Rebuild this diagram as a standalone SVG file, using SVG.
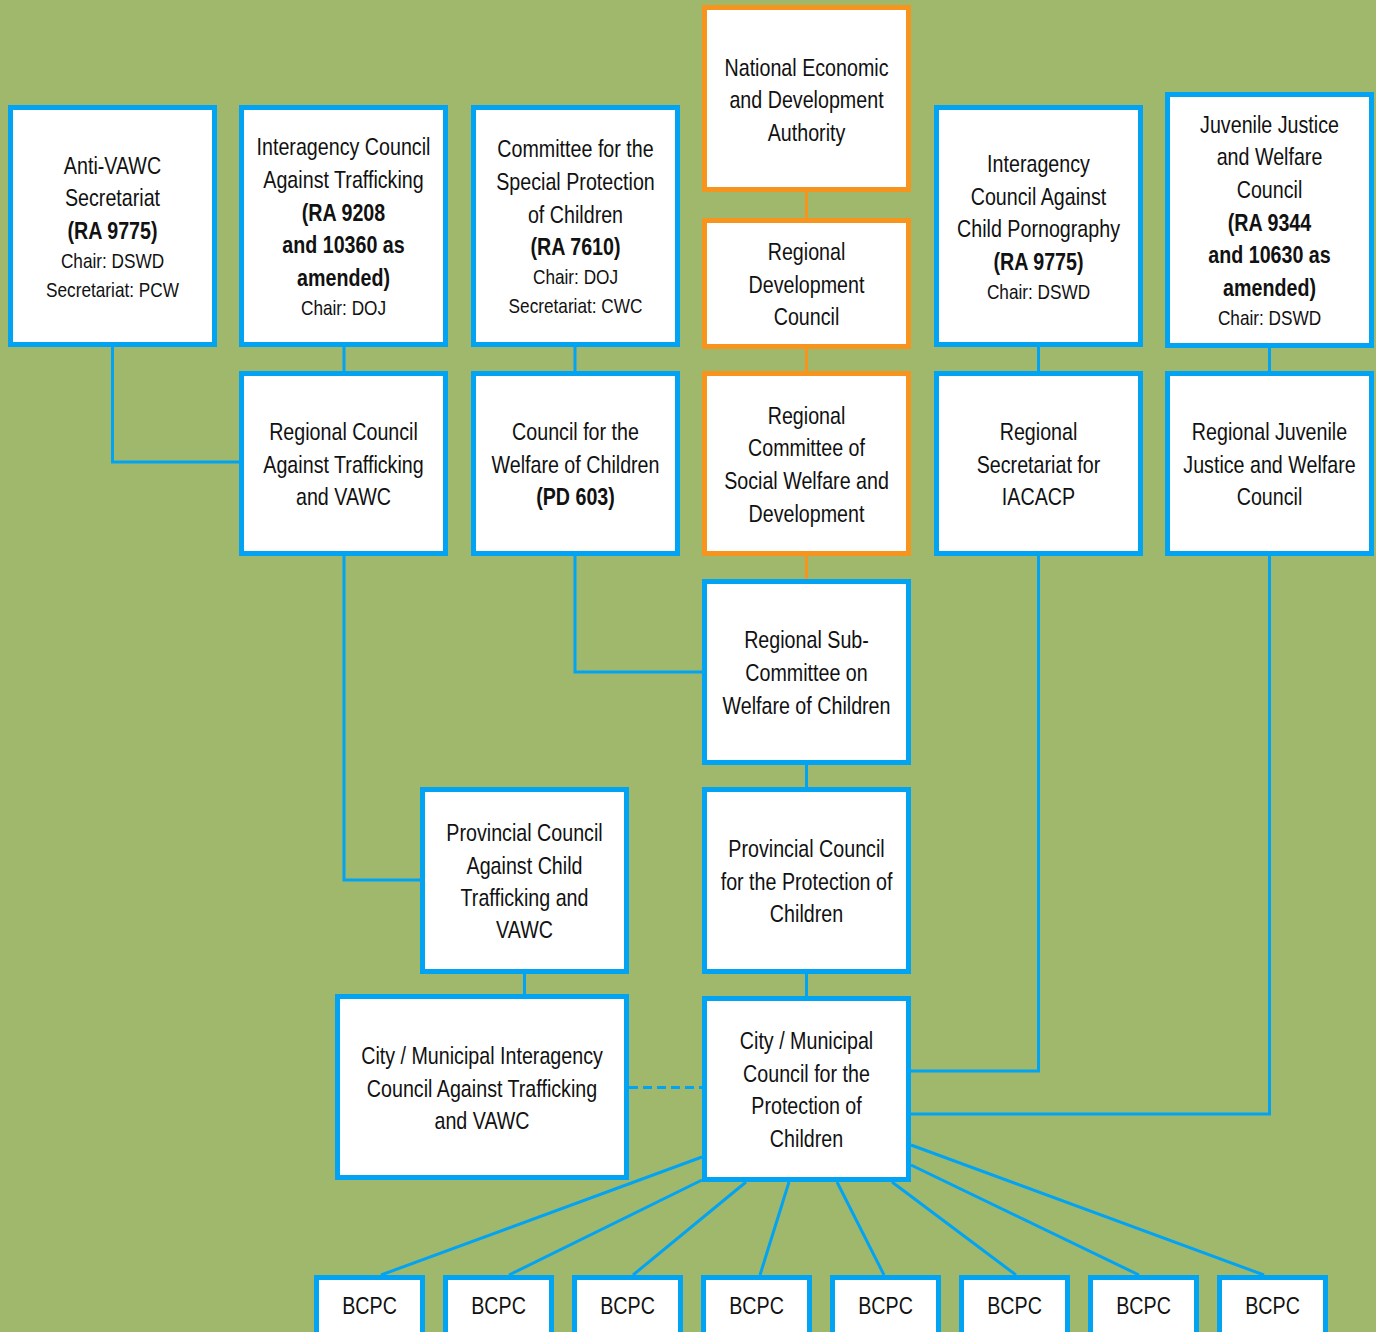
<svg xmlns="http://www.w3.org/2000/svg" width="1376" height="1332" viewBox="0 0 1376 1332">
<style>
.b{fill:#ffffff;stroke:#03A3F3;stroke-width:5}
.o{fill:#ffffff;stroke:#F7941D;stroke-width:5}
.c{fill:none;stroke:#03A3F3;stroke-width:3}
.co{fill:none;stroke:#F7941D;stroke-width:3}
text{font-family:"Liberation Sans",Arial,sans-serif;font-size:24px;fill:#111;text-anchor:middle}
.s{font-size:21px}
.bd{font-weight:bold}
</style>
<rect x="0" y="0" width="1376" height="1332" fill="#A0B86B"/>
<g id="connectors">
<path class="c" d="M112.5,347 V462 H239"/>
<path class="c" d="M344,347 V371"/>
<path class="c" d="M344,556 V880 H420"/>
<path class="c" d="M575,347 V371"/>
<path class="c" d="M575,556 V672 H702"/>
<path class="c" d="M1038.5,347 V371"/>
<path class="c" d="M1038.5,556 V1071 H911"/>
<path class="c" d="M1269.5,348 V371"/>
<path class="c" d="M1269.5,556 V1114 H911"/>
<path class="c" d="M806.5,765 V787"/>
<path class="c" d="M806.5,974 V996"/>
<path class="c" d="M524.5,974 V994"/>
<path class="c" d="M629,1087.5 H702" stroke-dasharray="9,5"/>
<path class="co" d="M806.5,192 V218"/>
<path class="co" d="M806.5,349 V371"/>
<path class="co" d="M806.5,556 V579"/>
<path class="c" d="M702,1157 L381,1275"/>
<path class="c" d="M702,1180 L509,1275"/>
<path class="c" d="M746,1182 L633,1275"/>
<path class="c" d="M789,1182 L760,1275"/>
<path class="c" d="M837,1182 L884,1275"/>
<path class="c" d="M892,1182 L1016,1275"/>
<path class="c" d="M911,1165 L1139,1275"/>
<path class="c" d="M911,1145 L1264,1275"/>
</g>
<g id="anti-vawc">
<rect class="b" x="10.5" y="107.5" width="204" height="237"/>
<text transform="matrix(0.82 0 0 1 112.5 174)">Anti-VAWC</text>
<text transform="matrix(0.82 0 0 1 112.5 206)">Secretariat</text>
<text transform="matrix(0.82 0 0 1 112.5 239)" class="bd">(RA 9775)</text>
<text transform="matrix(0.82 0 0 1 112.5 268)" class="s">Chair: DSWD</text>
<text transform="matrix(0.82 0 0 1 112.5 297)" class="s">Secretariat: PCW</text>
</g>
<g id="iacat">
<rect class="b" x="241.5" y="107.5" width="204" height="237"/>
<text transform="matrix(0.82 0 0 1 343.5 155)">Interagency Council</text>
<text transform="matrix(0.82 0 0 1 343.5 188)">Against Trafficking</text>
<text transform="matrix(0.82 0 0 1 343.5 221)" class="bd">(RA 9208</text>
<text transform="matrix(0.82 0 0 1 343.5 253)" class="bd">and 10360 as</text>
<text transform="matrix(0.82 0 0 1 343.5 286)" class="bd">amended)</text>
<text transform="matrix(0.82 0 0 1 343.5 315)" class="s">Chair: DOJ</text>
</g>
<g id="cspc">
<rect class="b" x="473.5" y="107.5" width="204" height="237"/>
<text transform="matrix(0.82 0 0 1 575.5 157)">Committee for the</text>
<text transform="matrix(0.82 0 0 1 575.5 190)">Special Protection</text>
<text transform="matrix(0.82 0 0 1 575.5 223)">of Children</text>
<text transform="matrix(0.82 0 0 1 575.5 255)" class="bd">(RA 7610)</text>
<text transform="matrix(0.82 0 0 1 575.5 284)" class="s">Chair: DOJ</text>
<text transform="matrix(0.82 0 0 1 575.5 313)" class="s">Secretariat: CWC</text>
</g>
<g id="neda">
<rect class="o" x="704.5" y="7.5" width="204" height="182"/>
<text transform="matrix(0.82 0 0 1 806.5 76)">National Economic</text>
<text transform="matrix(0.82 0 0 1 806.5 108)">and Development</text>
<text transform="matrix(0.82 0 0 1 806.5 141)">Authority</text>
</g>
<g id="rdc">
<rect class="o" x="704.5" y="220.5" width="204" height="126"/>
<text transform="matrix(0.82 0 0 1 806.5 260)">Regional</text>
<text transform="matrix(0.82 0 0 1 806.5 293)">Development</text>
<text transform="matrix(0.82 0 0 1 806.5 325)">Council</text>
</g>
<g id="iacacp">
<rect class="b" x="936.5" y="107.5" width="204" height="237"/>
<text transform="matrix(0.82 0 0 1 1038.5 172)">Interagency</text>
<text transform="matrix(0.82 0 0 1 1038.5 205)">Council Against</text>
<text transform="matrix(0.82 0 0 1 1038.5 237)">Child Pornography</text>
<text transform="matrix(0.82 0 0 1 1038.5 270)" class="bd">(RA 9775)</text>
<text transform="matrix(0.82 0 0 1 1038.5 299)" class="s">Chair: DSWD</text>
</g>
<g id="jjwc">
<rect class="b" x="1167.5" y="94.5" width="204" height="251"/>
<text transform="matrix(0.82 0 0 1 1269.5 133)">Juvenile Justice</text>
<text transform="matrix(0.82 0 0 1 1269.5 165)">and Welfare</text>
<text transform="matrix(0.82 0 0 1 1269.5 198)">Council</text>
<text transform="matrix(0.82 0 0 1 1269.5 231)" class="bd">(RA 9344</text>
<text transform="matrix(0.82 0 0 1 1269.5 263)" class="bd">and 10630 as</text>
<text transform="matrix(0.82 0 0 1 1269.5 296)" class="bd">amended)</text>
<text transform="matrix(0.82 0 0 1 1269.5 325)" class="s">Chair: DSWD</text>
</g>
<g id="rcat-vawc">
<rect class="b" x="241.5" y="373.5" width="204" height="180"/>
<text transform="matrix(0.82 0 0 1 343.5 440)">Regional Council</text>
<text transform="matrix(0.82 0 0 1 343.5 473)">Against Trafficking</text>
<text transform="matrix(0.82 0 0 1 343.5 505)">and VAWC</text>
</g>
<g id="cwc">
<rect class="b" x="473.5" y="373.5" width="204" height="180"/>
<text transform="matrix(0.82 0 0 1 575.5 440)">Council for the</text>
<text transform="matrix(0.82 0 0 1 575.5 473)">Welfare of Children</text>
<text transform="matrix(0.82 0 0 1 575.5 505)" class="bd">(PD 603)</text>
</g>
<g id="rcswd">
<rect class="o" x="704.5" y="373.5" width="204" height="180"/>
<text transform="matrix(0.82 0 0 1 806.5 424)">Regional</text>
<text transform="matrix(0.82 0 0 1 806.5 456)">Committee of</text>
<text transform="matrix(0.82 0 0 1 806.5 489)">Social Welfare and</text>
<text transform="matrix(0.82 0 0 1 806.5 522)">Development</text>
</g>
<g id="rs-iacacp">
<rect class="b" x="936.5" y="373.5" width="204" height="180"/>
<text transform="matrix(0.82 0 0 1 1038.5 440)">Regional</text>
<text transform="matrix(0.82 0 0 1 1038.5 473)">Secretariat for</text>
<text transform="matrix(0.82 0 0 1 1038.5 505)">IACACP</text>
</g>
<g id="rjjwc">
<rect class="b" x="1167.5" y="373.5" width="204" height="180"/>
<text transform="matrix(0.82 0 0 1 1269.5 440)">Regional Juvenile</text>
<text transform="matrix(0.82 0 0 1 1269.5 473)">Justice and Welfare</text>
<text transform="matrix(0.82 0 0 1 1269.5 505)">Council</text>
</g>
<g id="rsc-wc">
<rect class="b" x="704.5" y="581.5" width="204" height="181"/>
<text transform="matrix(0.82 0 0 1 806.5 648)">Regional Sub-</text>
<text transform="matrix(0.82 0 0 1 806.5 681)">Committee on</text>
<text transform="matrix(0.82 0 0 1 806.5 714)">Welfare of Children</text>
</g>
<g id="pcat-vawc">
<rect class="b" x="422.5" y="789.5" width="204" height="182"/>
<text transform="matrix(0.82 0 0 1 524.5 841)">Provincial Council</text>
<text transform="matrix(0.82 0 0 1 524.5 874)">Against Child</text>
<text transform="matrix(0.82 0 0 1 524.5 906)">Trafficking and</text>
<text transform="matrix(0.82 0 0 1 524.5 938)">VAWC</text>
</g>
<g id="pcpc">
<rect class="b" x="704.5" y="789.5" width="204" height="182"/>
<text transform="matrix(0.82 0 0 1 806.5 857)">Provincial Council</text>
<text transform="matrix(0.82 0 0 1 806.5 890)">for the Protection of</text>
<text transform="matrix(0.82 0 0 1 806.5 922)">Children</text>
</g>
<g id="cm-iacat-vawc">
<rect class="b" x="337.5" y="996.5" width="289" height="181"/>
<text transform="matrix(0.82 0 0 1 482 1064)">City / Municipal Interagency</text>
<text transform="matrix(0.82 0 0 1 482 1097)">Council Against Trafficking</text>
<text transform="matrix(0.82 0 0 1 482 1129)">and VAWC</text>
</g>
<g id="cmcpc">
<rect class="b" x="704.5" y="998.5" width="204" height="181"/>
<text transform="matrix(0.82 0 0 1 806.5 1049)">City / Municipal</text>
<text transform="matrix(0.82 0 0 1 806.5 1082)">Council for the</text>
<text transform="matrix(0.82 0 0 1 806.5 1114)">Protection of</text>
<text transform="matrix(0.82 0 0 1 806.5 1147)">Children</text>
</g>
<g id="bcpc1"><rect class="b" x="316.5" y="1277.5" width="106" height="70"/><text transform="matrix(0.82 0 0 1 369.5 1314)">BCPC</text></g>
<g id="bcpc2"><rect class="b" x="445.5" y="1277.5" width="106" height="70"/><text transform="matrix(0.82 0 0 1 498.5 1314)">BCPC</text></g>
<g id="bcpc3"><rect class="b" x="574.5" y="1277.5" width="106" height="70"/><text transform="matrix(0.82 0 0 1 627.5 1314)">BCPC</text></g>
<g id="bcpc4"><rect class="b" x="703.5" y="1277.5" width="106" height="70"/><text transform="matrix(0.82 0 0 1 756.5 1314)">BCPC</text></g>
<g id="bcpc5"><rect class="b" x="832.5" y="1277.5" width="106" height="70"/><text transform="matrix(0.82 0 0 1 885.5 1314)">BCPC</text></g>
<g id="bcpc6"><rect class="b" x="961.5" y="1277.5" width="106" height="70"/><text transform="matrix(0.82 0 0 1 1014.5 1314)">BCPC</text></g>
<g id="bcpc7"><rect class="b" x="1090.5" y="1277.5" width="106" height="70"/><text transform="matrix(0.82 0 0 1 1143.5 1314)">BCPC</text></g>
<g id="bcpc8"><rect class="b" x="1219.5" y="1277.5" width="106" height="70"/><text transform="matrix(0.82 0 0 1 1272.5 1314)">BCPC</text></g>
</svg>
